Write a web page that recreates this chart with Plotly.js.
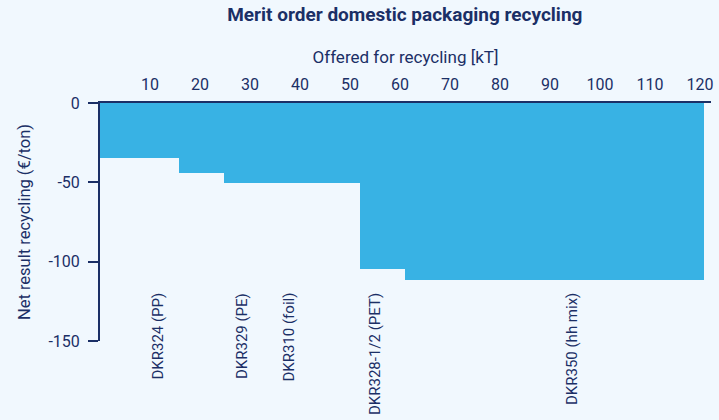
<!DOCTYPE html>
<html>
<head>
<meta charset="utf-8">
<script src="https://cdn.plot.ly/plotly-3.0.1.min.js"></script>
<style>
html,body{margin:0;padding:0;background:#f1f8fe;}
#chart{width:719px;height:420px;}
</style>
</head>
<body>
<div id="chart"></div>
<script>
// Data
const categories = ["DKR324 (PP)", "DKR329 (PE)", "DKR310 (foil)", "DKR328-1/2 (PET)", "DKR350 (hh mix)"];
const volumes = [15.8, 9.0, 27.1, 9.1, 59.7];          // kT offered per step
const netResult = [-34.5, -44, -50.3, -104.5, -111.7]; // €/ton
const labelPositions = [11.6, 28.4, 37.8, 55, 94.4];   // kT where each category label sits
const xTicks = [10, 20, 30, 40, 50, 60, 70, 80, 90, 100, 110, 120];
const yTicks = [0, -50, -100, -150];
const yTickText = ["0", "-50", "-100", "-150"];

const starts = [];
let acc = 0;
for (const v of volumes) { starts.push(acc); acc += v; }

const navy = '#1b2f66';
const font = 'Roboto, "Liberation Sans", sans-serif';

const trace = {
  type: 'bar',
  x: starts,
  y: netResult,
  width: volumes,
  offset: 0,
  marker: {color: '#38b2e4', line: {width: 0}},
  text: categories,
  hoverinfo: 'text+y',
  textposition: 'none'
};

const annotations = categories.map((c, i) => ({
  text: c,
  x: labelPositions[i],
  y: -118.5,
  xref: 'x', yref: 'y',
  textangle: -90,
  xanchor: 'center', yanchor: 'top',
  showarrow: false,
  font: {family: font, size: 15, color: navy}
}));

const layout = {
  width: 719, height: 420,
  paper_bgcolor: '#f1f8fe',
  plot_bgcolor: '#f1f8fe',
  margin: {l: 100, r: 8, t: 103, b: 79},
  showlegend: false,
  bargap: 0,
  title: {
    text: '<b>Merit order domestic packaging recycling</b>',
    x: 0.563, xanchor: 'center',
    y: 0.965, yanchor: 'middle',
    font: {family: font, size: 19, color: navy}
  },
  xaxis: {
    side: 'top',
    range: [0, 122.2],
    tickvals: xTicks,
    ticks: '',
    showgrid: false,
    zeroline: false,
    showline: true,
    linecolor: navy,
    linewidth: 2,
    tickfont: {family: font, size: 16, color: navy},
    ticklabelstandoff: 5,
    title: {text: 'Offered for recycling [kT]', standoff: 7, font: {family: font, size: 17, color: navy}}
  },
  yaxis: {
    range: [-150, 0],
    tickvals: yTicks,
    ticktext: yTickText,
    ticks: 'outside',
    ticklen: 10,
    tickwidth: 2,
    tickcolor: navy,
    showgrid: false,
    zeroline: false,
    showline: true,
    linecolor: navy,
    linewidth: 2,
    ticklabelstandoff: 5,
    tickfont: {family: font, size: 16, color: navy},
    title: {text: 'Net result recycling (€/ton)', standoff: 14, font: {family: font, size: 16.5, color: navy}}
  },
  annotations: annotations
};

Plotly.newPlot('chart', [trace], layout, {displayModeBar: false, staticPlot: true});
</script>
</body>
</html>
